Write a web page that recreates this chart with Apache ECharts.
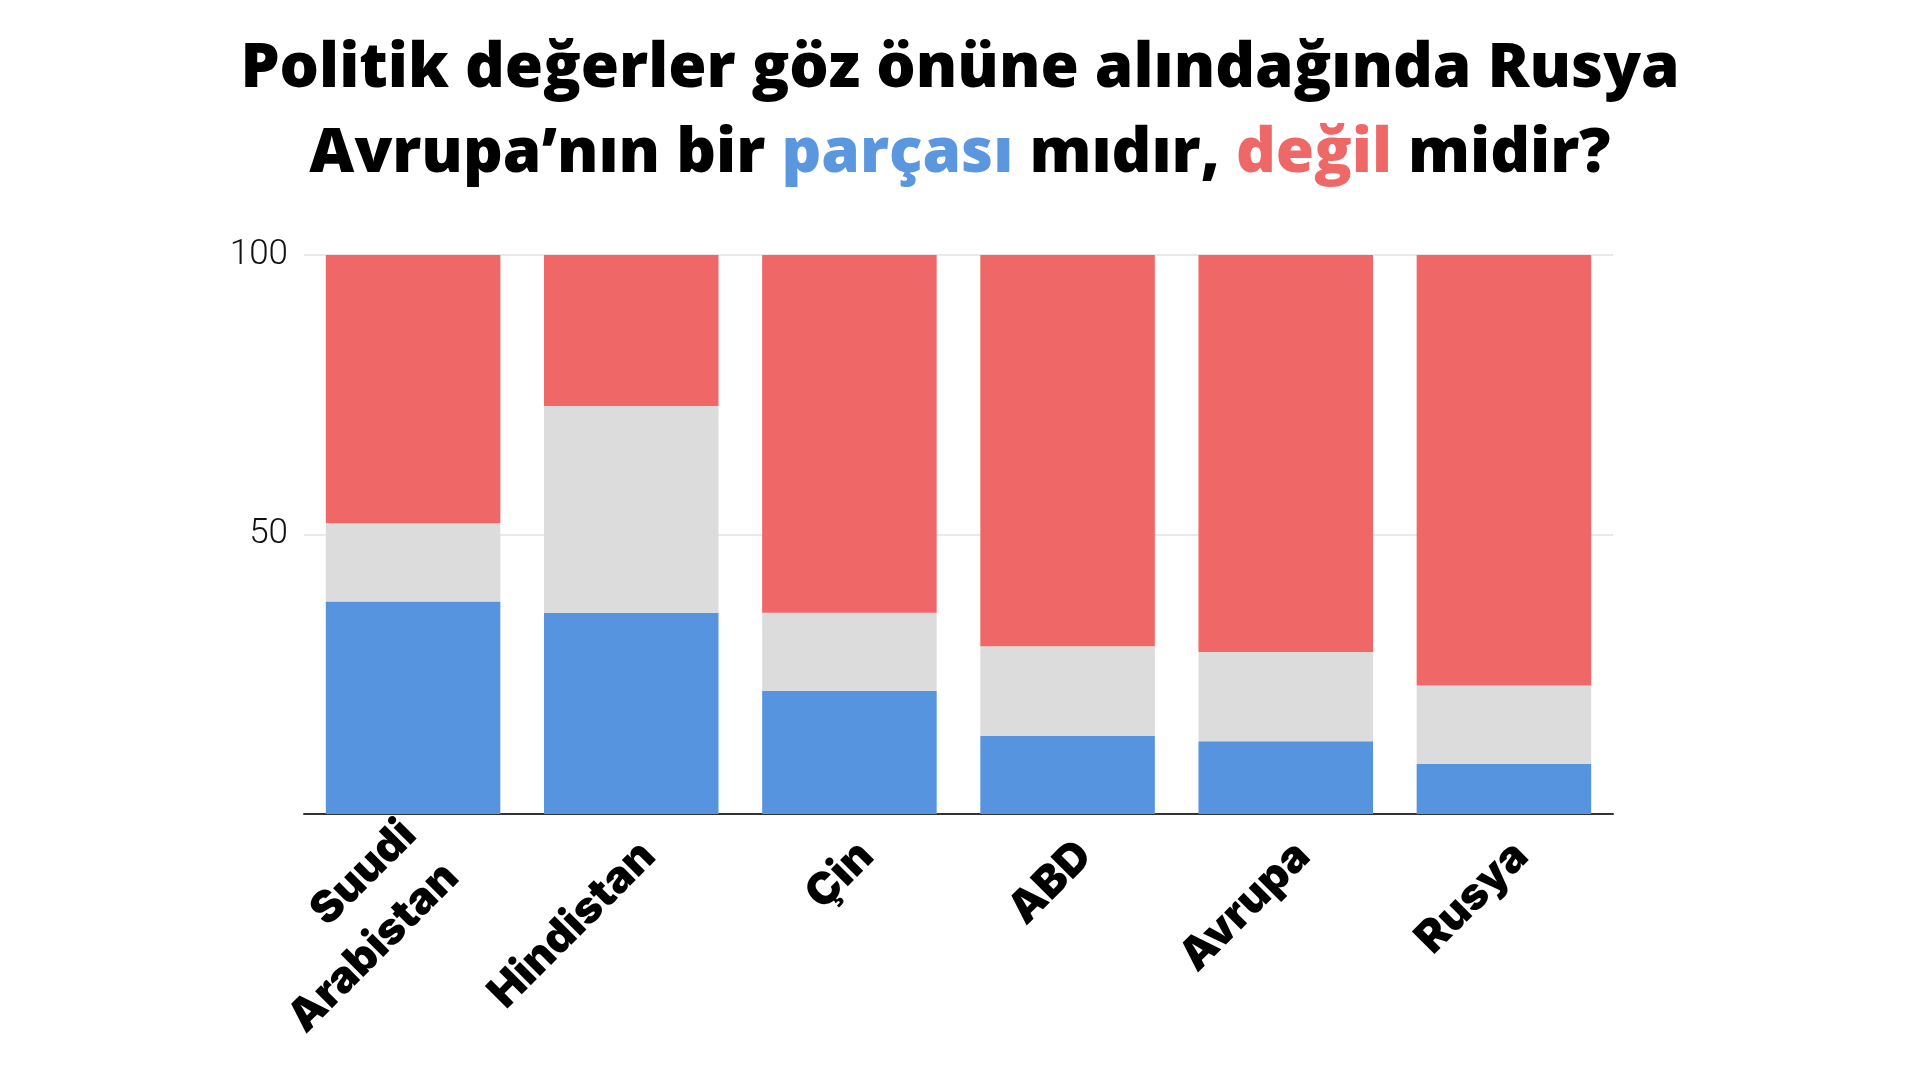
<!DOCTYPE html>
<html>
<head>
<meta charset="utf-8">
<script src="https://cdn.jsdelivr.net/npm/echarts@6/dist/echarts.min.js"></script>
<style>
  html, body { margin: 0; padding: 0; background: #fff; }
  #chart { width: 1920px; height: 1080px; }
</style>
</head>
<body>
<div id="chart"></div>
<script>
// Ülkeler ve yüzdeler
var categories = ['Suudi\nArabistan', 'Hindistan', 'Çin', 'ABD', 'Avrupa', 'Rusya'];
var parcasi = [38, 36, 22, 14, 13, 9];   // Avrupa'nın parçası (mavi)
var kararsiz = [14, 37, 14, 16, 16, 14]; // bilmiyor / kararsız (gri)
var degil = [48, 27, 64, 70, 71, 77];    // değil (kırmızı)

var myChart = echarts.init(document.getElementById('chart'));
myChart.setOption({
    animation: false,
    color: ['#5794e0', '#dcdcdc', '#f06767'],
    title: {
        text: '{a|Politik değerler göz önüne alındağında Rusya}\n{a|Avrupa’nın bir }{b|parçası}{a| mıdır, }{r|değil}{a| midir?}',
        left: 'center',
        top: 22,
        textStyle: {
            rich: {
                a: { fontFamily: 'Open Sans', fontWeight: 800, fontSize: 62, color: '#000', lineHeight: 85 },
                b: { fontFamily: 'Open Sans', fontWeight: 800, fontSize: 62, color: '#5b97df', lineHeight: 85 },
                r: { fontFamily: 'Open Sans', fontWeight: 800, fontSize: 62, color: '#ee6868', lineHeight: 85 }
            }
        }
    },
    grid: {
        left: 304,
        right: 307,
        top: 255,
        bottom: 266
    },
    xAxis: {
        type: 'category',
        data: categories,
        axisLine: { show: true, lineStyle: { color: '#333', width: 2 } },
        axisTick: { show: false },
        axisLabel: {
            interval: 0,
            rotate: 45,
            margin: 18,
            fontFamily: 'Inter',
            fontWeight: 900,
            fontSize: 44,
            lineHeight: 60,
            color: '#000',
            // boş ilk satır etiketi eksene dik yönde biraz kaydırır
            formatter: function (v) { return '{s| }\n' + v; },
            rich: {
                s: { fontSize: 10, lineHeight: 48 }
            }
        }
    },
    yAxis: {
        type: 'value',
        min: 0,
        max: 100,
        interval: 50,
        axisLine: { show: false },
        axisTick: { show: false },
        splitLine: { lineStyle: { color: '#e9e9e9', width: 2 } },
        axisLabel: {
            margin: 16,
            fontFamily: 'Roboto',
            fontWeight: 300,
            fontSize: 35,
            color: '#111',
            formatter: function (v) { return v === 0 ? '' : v; }
        }
    },
    series: [
        { name: 'Parçası', type: 'bar', stack: 'toplam', barCategoryGap: '20%', data: parcasi },
        { name: 'Kararsız', type: 'bar', stack: 'toplam', data: kararsiz },
        { name: 'Değil', type: 'bar', stack: 'toplam', data: degil }
    ]
});
</script>
</body>
</html>
